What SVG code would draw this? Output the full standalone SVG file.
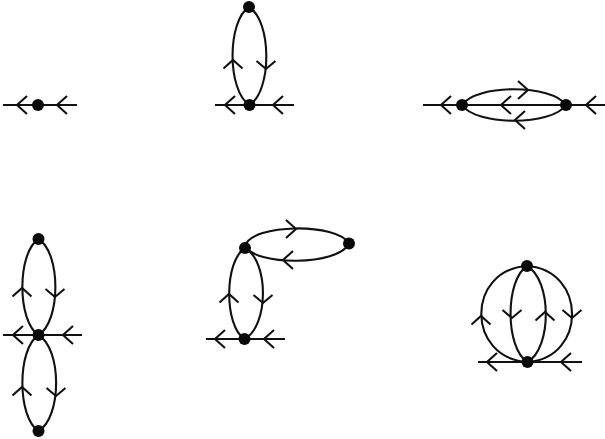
<svg xmlns="http://www.w3.org/2000/svg" width="605" height="439" viewBox="0 0 605 439">
<style>
.e{fill:none;stroke:#111;stroke-width:2.1}
.c{fill:none;stroke:#111;stroke-width:2.1}
.d{fill:#0a0a0a}
</style>
<defs>
<path id="l" class="c" d="M10-9 0 0 10 9"/>
<path id="r" class="c" d="M-10-9 0 0-10 9"/>
<path id="u" class="c" d="M-9.500 8.500 0 0 9.500 8.500"/>
<path id="w" class="c" d="M-9.500-8 0 0 9.500-8"/>
</defs>
<rect width="605" height="439" fill="#fff"/>
<g id="connectors">
<path class="e" d="M3 105H77"/>
<use href="#l" x="17" y="105"/><use href="#l" x="57" y="105"/>

<path class="e" d="M215 105H294"/>
<path class="e" d="M249 7C227 21 227 91 249.500 105"/>
<path class="e" d="M249 7C272 21 272 91 249.500 105"/>
<use href="#u" x="233" y="60"/><use href="#w" x="266" y="69"/>
<use href="#l" x="225" y="105"/><use href="#l" x="273" y="105"/>

<path class="e" d="M423 105H605"/>
<path class="e" d="M462 105C476 84 552 84 566 105"/>
<path class="e" d="M462 105C476 126 552 126 566 105"/>
<use href="#l" x="441" y="105"/><use href="#r" x="528" y="90"/>
<use href="#l" x="501" y="105"/><use href="#l" x="515" y="120"/>
<use href="#l" x="586" y="105"/>

<path class="e" d="M3 335H82"/>
<path class="e" d="M38.500 239C17 253 17 321 38.500 335"/>
<path class="e" d="M38.500 239C61 253 61 321 38.500 335"/>
<path class="e" d="M38.500 335C17 349 17 417 38.500 431"/>
<path class="e" d="M38.500 335C62 349 62 417 38.500 431"/>
<use href="#u" x="22" y="288"/><use href="#w" x="55" y="297"/>
<use href="#l" x="13" y="335"/><use href="#l" x="63" y="335"/>
<use href="#u" x="22" y="387"/><use href="#w" x="56" y="396"/>

<path class="e" d="M206 339H285"/>
<path class="e" d="M245 248C224 261 224 326 244.500 339"/>
<path class="e" d="M245 248C269 261 269 326 244.500 339"/>
<path class="e" d="M245 246C252 223 338 223 349 243.500"/>
<path class="e" d="M245 246C256 266 338 266 349 243.500"/>
<use href="#r" x="296" y="229"/><use href="#l" x="283" y="260"/>
<use href="#u" x="229" y="294"/><use href="#w" x="263" y="303"/>
<use href="#l" x="215" y="339"/><use href="#l" x="264" y="339"/>

<path class="e" d="M478 362H582"/>
<path class="e" d="M527 266C466 270 466 358 527.500 362"/>
<path class="e" d="M527 266C587 270 587 358 527.500 362"/>
<path class="e" d="M527 266C505 280 505 348 527.500 362"/>
<path class="e" d="M527 266C552 280 552 348 527.500 362"/>
<use href="#u" x="481" y="316"/><use href="#w" x="512" y="318"/>
<use href="#u" x="545" y="312"/><use href="#w" x="572" y="318"/>
<use href="#l" x="487" y="362"/><use href="#l" x="561" y="362"/>
</g>
<g id="n1"><circle class="d" cx="38" cy="105" r="6"/></g>
<g id="n2"><circle class="d" cx="249" cy="7" r="6"/></g>
<g id="n3"><circle class="d" cx="249.500" cy="105" r="6"/></g>
<g id="n4"><circle class="d" cx="462" cy="105" r="6"/></g>
<g id="n5"><circle class="d" cx="566" cy="105" r="6"/></g>
<g id="n6"><circle class="d" cx="38.500" cy="239" r="6"/></g>
<g id="n7"><circle class="d" cx="38.500" cy="335" r="6"/></g>
<g id="n8"><circle class="d" cx="38.500" cy="431" r="6"/></g>
<g id="n9"><circle class="d" cx="245" cy="248" r="6"/></g>
<g id="n10"><circle class="d" cx="349" cy="243.500" r="6"/></g>
<g id="n11"><circle class="d" cx="244.500" cy="339" r="6"/></g>
<g id="n12"><circle class="d" cx="527" cy="266" r="6"/></g>
<g id="n13"><circle class="d" cx="527.500" cy="362" r="6"/></g>
</svg>
